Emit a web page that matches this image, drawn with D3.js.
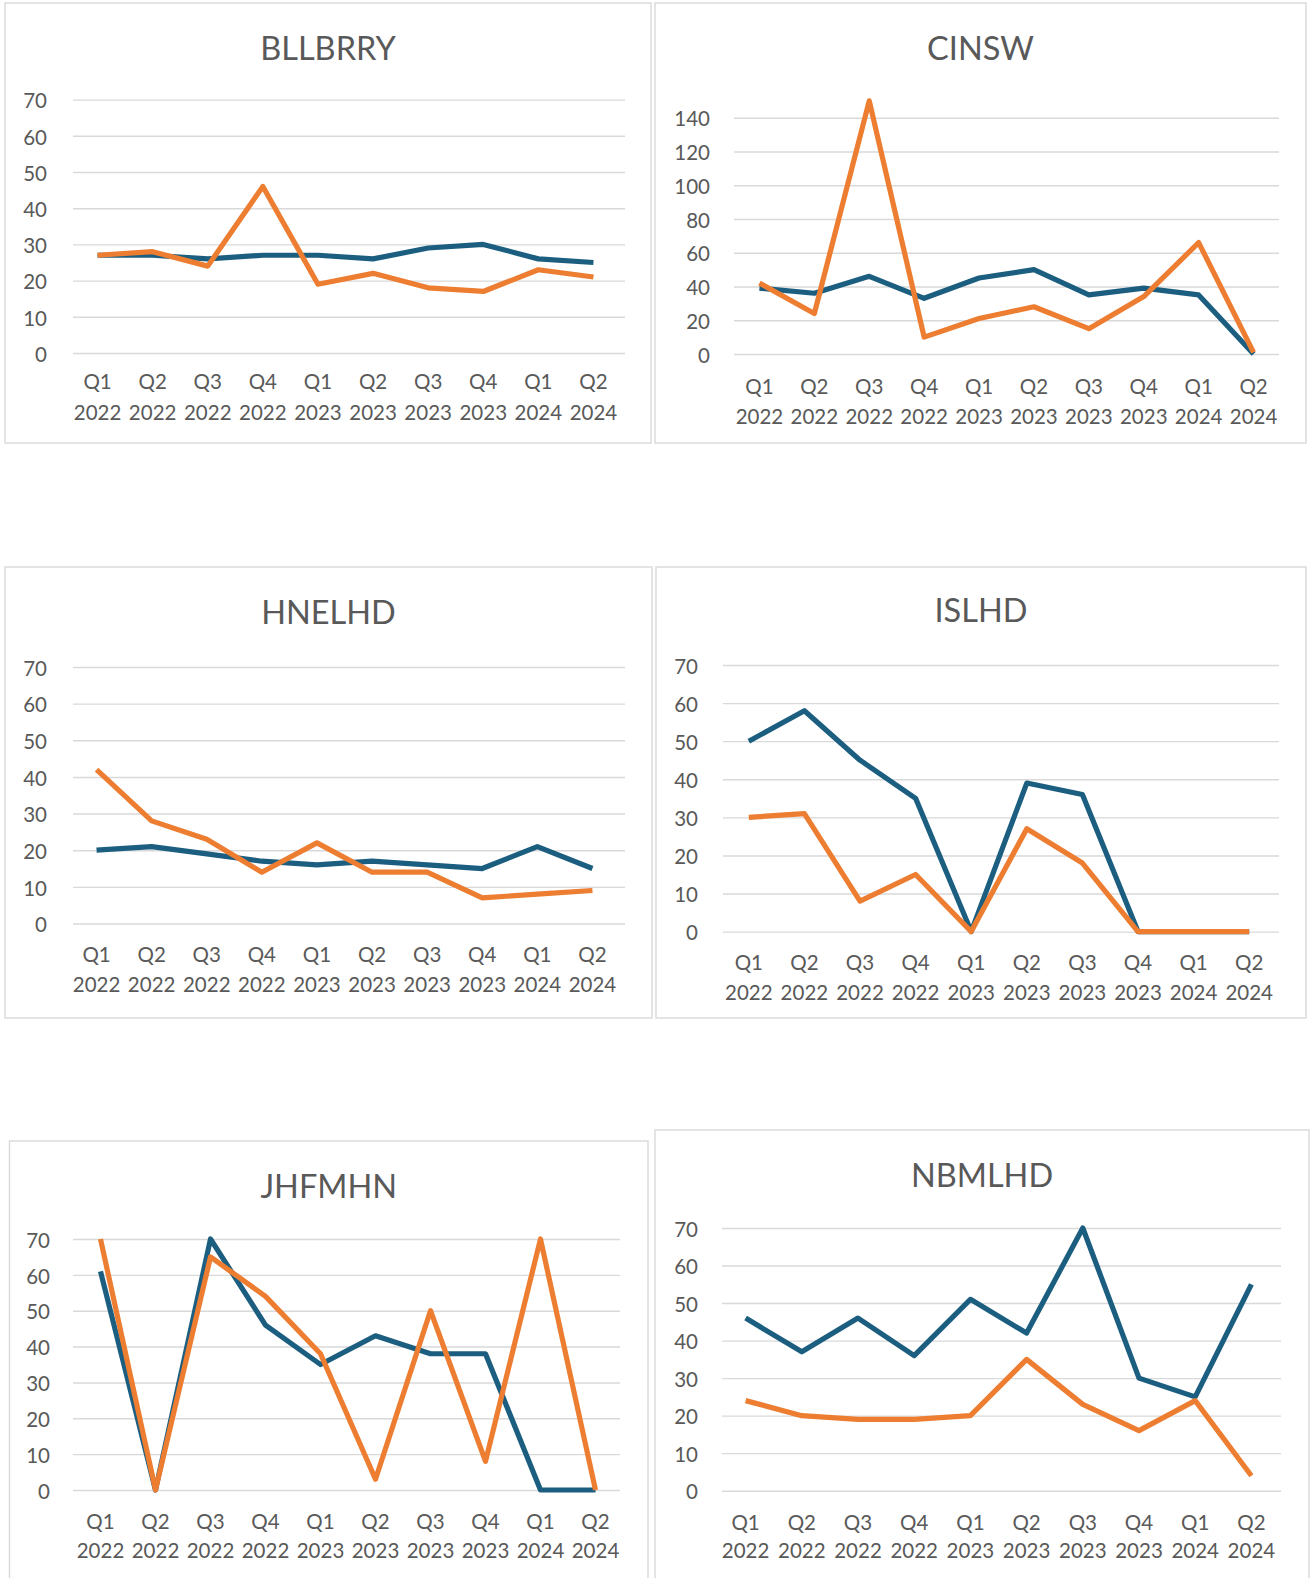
<!DOCTYPE html>
<html>
<head>
<meta charset="utf-8">
<script src="https://cdn.jsdelivr.net/npm/d3@7"></script>
<style>
  html, body { margin: 0; padding: 0; background: #ffffff; }
  svg { display: block; }
  text { font-family: Lato, "Open Sans", "DejaVu Sans", sans-serif; }
</style>
</head>
<body>
<svg id="chart" width="1310" height="1578"></svg>
<script>
// ---------------- DATA ----------------
const quarters = ["Q1 2022","Q2 2022","Q3 2022","Q4 2022","Q1 2023","Q2 2023","Q3 2023","Q4 2023","Q1 2024","Q2 2024"];
const ticks70  = [0, 10, 20, 30, 40, 50, 60, 70];
const ticks140 = [0, 20, 40, 60, 80, 100, 120, 140];

const bllbrryBlue   = [27, 27, 26, 27, 27, 26, 29, 30, 26, 25];
const bllbrryOrange = [27, 28, 24, 46, 19, 22, 18, 17, 23, 21];

const cinswBlue     = [39, 36, 46, 33, 45, 50, 35, 39, 35, 0];
const cinswOrange   = [42, 24, 150, 10, 21, 28, 15, 34, 66, 1];

const hnelhdBlue    = [20, 21, 19, 17, 16, 17, 16, 15, 21, 15];
const hnelhdOrange  = [42, 28, 23, 14, 22, 14, 14, 7, 8, 9];

const islhdBlue     = [50, 58, 45, 35, 0, 39, 36, 0, 0, 0];
const islhdOrange   = [30, 31, 8, 15, 0, 27, 18, 0, 0, 0];

const jhfmhnBlue    = [61, 0, 70, 46, 35, 43, 38, 38, 0, 0];
const jhfmhnOrange  = [70, 0, 65, 54, 38, 3, 50, 8, 70, 0];

const nbmlhdBlue    = [46, 37, 46, 36, 51, 42, 70, 30, 25, 55];
const nbmlhdOrange  = [24, 20, 19, 19, 20, 35, 23, 16, 24, 4];

// ---------------- STYLE / LAYOUT ----------------
const BLUE = "#1b5e80";
const ORANGE = "#ed7d31";
const GRID = "#d9d9d9";
const TEXT = "#595959";
const TICK_FS = 20.5;
const TITLE_FS = 32.5;

const panels = [
  { title: "BLLBRRY", blue: bllbrryBlue, orange: bllbrryOrange, ticks: ticks70,
    box: [5, 3, 651, 443], titleY: 47, gx: [73, 625], xr: [70, 621], gy: [353, 99.6], labelRight: 47, qY: 381, yrY: 412 },
  { title: "CINSW", blue: cinswBlue, orange: cinswOrange, ticks: ticks140,
    box: [655, 3, 1306, 443], titleY: 47, gx: [734, 1279], xr: [732, 1281], gy: [354, 117.7], labelRight: 710, qY: 386, yrY: 415.5 },
  { title: "HNELHD", blue: hnelhdBlue, orange: hnelhdOrange, ticks: ticks70,
    box: [5, 567, 652, 1018], titleY: 611, gx: [73, 625], xr: [69, 620], gy: [923.5, 667], labelRight: 47, qY: 953.5, yrY: 984 },
  { title: "ISLHD", blue: islhdBlue, orange: islhdOrange, ticks: ticks70,
    box: [656, 567, 1306, 1018], titleY: 609.5, gx: [723, 1279], xr: [721, 1277], gy: [931.6, 665], labelRight: 698, qY: 962, yrY: 992 },
  { title: "JHFMHN", blue: jhfmhnBlue, orange: jhfmhnOrange, ticks: ticks70,
    box: [9.5, 1141, 648, 1600], titleY: 1185, gx: [73, 620], xr: [73, 623], gy: [1490, 1239], labelRight: 50, qY: 1521, yrY: 1550 },
  { title: "NBMLHD", blue: nbmlhdBlue, orange: nbmlhdOrange, ticks: ticks70,
    box: [655, 1130, 1309, 1600], titleY: 1174, gx: [722, 1281], xr: [717.5, 1279.5], gy: [1490.7, 1228], labelRight: 698, qY: 1522, yrY: 1550 }
];

const svg = d3.select("#chart");
svg.append("rect").attr("width", 1310).attr("height", 1578).attr("fill", "#fff");

panels.forEach(p => {
  const g = svg.append("g");
  const [bx0, by0, bx1, by1] = p.box;

  // panel border
  g.append("rect")
    .attr("x", bx0).attr("y", by0)
    .attr("width", bx1 - bx0).attr("height", by1 - by0)
    .attr("fill", "#fff").attr("stroke", GRID).attr("stroke-width", 1.4);

  // title
  g.append("text")
    .attr("x", (bx0 + bx1) / 2).attr("y", p.titleY)
    .attr("text-anchor", "middle").attr("dominant-baseline", "central")
    .attr("font-size", TITLE_FS).attr("fill", TEXT)
    .text(p.title);

  const x = d3.scalePoint().domain(quarters).range(p.xr).padding(0.5);
  const maxTick = p.ticks[p.ticks.length - 1];
  const y = d3.scaleLinear().domain([0, maxTick]).range(p.gy);

  // y axis with gridlines
  const yAxis = d3.axisLeft(y)
    .tickValues(p.ticks)
    .tickSize(-(p.gx[1] - p.gx[0]))
    .tickPadding(p.gx[0] - p.labelRight)
    .tickFormat(d3.format("d"));
  const ya = g.append("g").attr("transform", `translate(${p.gx[0]},0)`).call(yAxis);
  ya.select(".domain").remove();
  ya.selectAll(".tick line").attr("stroke", GRID).attr("stroke-width", 1.4);
  ya.selectAll(".tick text")
    .attr("fill", TEXT).attr("font-size", TICK_FS)
    .attr("font-family", "Lato, 'Open Sans', sans-serif")
    .attr("dy", "0.4em");

  // x axis two-line labels
  const xa = g.append("g").attr("class", "xlabels");
  const lab = xa.selectAll("g.xl").data(quarters).join("g").attr("class", "xl");
  lab.append("text")
    .attr("x", d => x(d)).attr("y", p.qY)
    .attr("text-anchor", "middle").attr("dominant-baseline", "central")
    .attr("font-size", TICK_FS).attr("fill", TEXT)
    .text(d => d.split(" ")[0]);
  lab.append("text")
    .attr("x", d => x(d)).attr("y", p.yrY)
    .attr("text-anchor", "middle").attr("dominant-baseline", "central")
    .attr("font-size", TICK_FS).attr("fill", TEXT)
    .text(d => d.split(" ")[1]);

  const line = d3.line().x((d, i) => x(quarters[i])).y(d => y(d));

  g.append("path").datum(p.blue)
    .attr("d", line).attr("fill", "none")
    .attr("stroke", BLUE).attr("stroke-width", 5.2)
    .attr("stroke-linejoin", "round").attr("stroke-linecap", "butt");

  g.append("path").datum(p.orange)
    .attr("d", line).attr("fill", "none")
    .attr("stroke", ORANGE).attr("stroke-width", 5.2)
    .attr("stroke-linejoin", "round").attr("stroke-linecap", "butt");
});
</script>
</body>
</html>
